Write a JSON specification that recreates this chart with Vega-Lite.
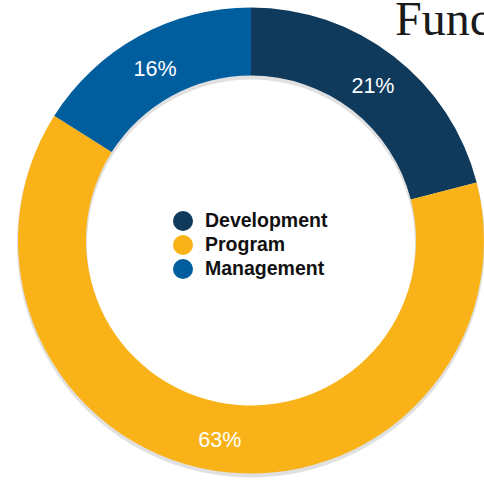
{
  "$schema": "https://vega.github.io/schema/vega-lite/v6.json",
  "width": 502,
  "height": 481,
  "padding": 0,
  "autosize": {"type": "none"},
  "background": "white",
  "config": {"view": {"stroke": null}},
  "title": {
    "text": "Functional Breakdown",
    "anchor": "start",
    "frame": "group",
    "orient": "bottom",
    "dx": 395,
    "dy": -446,
    "offset": 0,
    "baseline": "alphabetic",
    "font": "Liberation Serif",
    "fontSize": 48,
    "fontWeight": "normal",
    "color": "#1a1a1a"
  },
  "data": {
    "values": [
      {"category": "Development", "value": 21, "order": 1, "label": "21%"},
      {"category": "Program", "value": 63, "order": 2, "label": "63%"},
      {"category": "Management", "value": 16, "order": 3, "label": "16%"}
    ]
  },
  "encoding": {
    "theta": {"field": "value", "type": "quantitative", "stack": true},
    "order": {"field": "order", "type": "quantitative"}
  },
  "layer": [
    {
      "mark": {"type": "arc", "radius": 234, "radius2": 164, "yOffset": 3, "color": "#000000", "opacity": 0.12}
    },
    {
      "mark": {"type": "arc", "radius": 233, "radius2": 165},
      "encoding": {
        "color": {
          "field": "category",
          "type": "nominal",
          "sort": ["Development", "Program", "Management"],
          "scale": {
            "domain": ["Development", "Program", "Management"],
            "range": ["#0f3a5c", "#f9b319", "#005d9e"]
          },
          "legend": {
            "title": null,
            "orient": "none",
            "legendX": 173,
            "legendY": 211,
            "symbolType": "circle",
            "symbolSize": 400,
            "symbolStrokeWidth": 0,
            "rowPadding": 4,
            "labelFont": "Liberation Sans",
            "labelFontSize": 19.5,
            "labelFontWeight": "bold",
            "labelColor": "#111111",
            "labelOffset": 12
          }
        }
      }
    },
    {
      "mark": {
        "type": "text",
        "radius": 199,
        "dy": 4,
        "font": "Liberation Sans",
        "fontSize": 21.5,
        "color": "white"
      },
      "encoding": {
        "text": {"field": "label", "type": "nominal"}
      }
    }
  ]
}
